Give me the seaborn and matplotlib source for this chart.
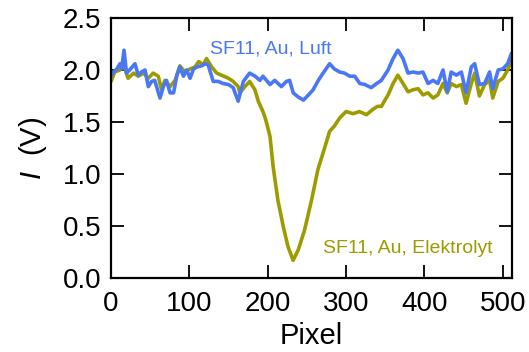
import matplotlib
matplotlib.use("Agg")
import matplotlib.pyplot as plt
import seaborn as sns
import pandas as pd

# Series: SF11, Au, Luft (blue)
luft_x = [0.3, 3, 7.7, 11.7, 13.8, 16.8, 20, 24, 30.8, 35, 39, 43.6, 47.8, 52, 56, 62.7, 67, 71,
          75.5, 80, 84, 88, 92.6, 96.8, 101, 105.5, 110, 116, 120, 124, 130.6, 137, 143, 150, 156,
          162.4, 169, 177, 184, 190, 194, 203, 209, 217.5, 224, 228, 232.6, 239, 245.6, 252, 258,
          264.6, 270.7, 279, 285, 292, 298, 304.7, 311, 317.5, 324, 332, 339, 345, 353.5, 360, 366,
          372.6, 379, 385.5, 392, 398, 404.5, 411, 417, 423.6, 429, 434, 440.6, 447, 453, 459.7,
          464, 470, 476.7, 483, 487, 494, 500, 506, 511]
luft_y = [1.94, 1.98, 2.01, 2.06, 2.01, 2.19, 1.97, 2.00, 2.06, 1.95, 1.98, 2.00, 1.84, 1.89, 1.90,
          1.73, 1.84, 1.90, 1.78, 1.78, 1.94, 2.03, 1.94, 2.00, 1.92, 2.01, 2.03, 2.04, 2.06, 2.05,
          1.89, 1.89, 1.87, 1.86, 1.83, 1.70, 1.89, 1.97, 1.94, 1.90, 1.94, 1.86, 1.90, 1.84, 1.89,
          1.90, 1.78, 1.74, 1.71, 1.76, 1.81, 1.90, 1.97, 2.06, 2.01, 1.98, 1.97, 1.94, 1.94, 1.87,
          1.86, 1.83, 1.87, 1.90, 2.00, 2.11, 2.19, 2.11, 1.97, 1.98, 1.97, 1.98, 1.87, 1.90, 1.87,
          2.00, 1.79, 1.98, 1.95, 1.98, 1.78, 2.03, 2.06, 1.86, 1.87, 1.98, 1.82, 2.00, 2.01, 2.06,
          2.16]

# Series: SF11, Au, Elektrolyt (olive)
elek_x = [0.3, 5, 11.7, 16, 22, 29, 35, 41.6, 47.8, 54, 60.5, 64.6, 69, 75.5, 82, 88, 94.5, 101,
          107.5, 112, 118, 122, 128.5, 135, 141, 150, 156, 162.4, 164.6, 171, 177, 183.7, 188, 194,
          197.6, 203, 207, 213, 220, 226, 232.5, 239, 247, 256, 264, 273, 279, 285, 292, 300, 309,
          317, 326, 334, 340, 345, 353.5, 360, 366, 372.6, 379, 385.5, 392, 398, 404.5, 411, 417,
          423.6, 429, 434, 440.6, 447, 453, 459.7, 464, 470, 476.7, 483, 487, 494, 500, 506, 511]
elek_y = [1.89, 1.98, 2.00, 2.06, 1.92, 1.97, 1.94, 1.97, 1.92, 1.97, 1.94, 1.81, 1.90, 1.84, 1.90,
          2.04, 1.98, 2.01, 2.03, 2.08, 2.05, 2.11, 2.03, 1.97, 1.95, 1.92, 1.89, 1.84, 1.78, 1.84,
          1.89, 1.81, 1.70, 1.60, 1.52, 1.36, 1.07, 0.75, 0.49, 0.30, 0.17, 0.27, 0.46, 0.75, 1.04,
          1.26, 1.41, 1.46, 1.54, 1.60, 1.58, 1.60, 1.57, 1.62, 1.65, 1.65, 1.76, 1.87, 1.95, 1.87,
          1.79, 1.81, 1.82, 1.76, 1.78, 1.73, 1.76, 1.87, 1.78, 1.87, 1.84, 1.86, 1.68, 1.87, 1.97,
          1.75, 1.86, 1.90, 1.73, 1.89, 1.92, 2.00, 2.09]

x_ticks = [0, 100, 200, 300, 400, 500]
y_ticks = [0.0, 0.5, 1.0, 1.5, 2.0, 2.5]

sns.set_style("ticks")
plt.rcParams['font.family'] = ['Liberation Sans', 'DejaVu Sans']
plt.rcParams['mathtext.fontset'] = 'custom'
plt.rcParams['mathtext.it'] = 'Liberation Sans:italic'
plt.rcParams['mathtext.rm'] = 'Liberation Sans'
plt.rcParams['text.color'] = 'black'
plt.rcParams['axes.labelcolor'] = 'black'

fig = plt.figure(figsize=(5.29, 3.52), dpi=100)
ax = fig.add_axes([0.2095, 0.2102, 0.7575, 0.7388])

blue = "#4a78f5"
olive = "#9c9c00"

df_l = pd.DataFrame({"x": luft_x, "y": luft_y})
df_e = pd.DataFrame({"x": elek_x, "y": elek_y})
sns.lineplot(data=df_e, x="x", y="y", ax=ax, color=olive, lw=2.6, estimator=None, sort=False)
sns.lineplot(data=df_l, x="x", y="y", ax=ax, color=blue, lw=2.6, estimator=None, sort=False)

ax.set_xlim(0, 511)
ax.set_ylim(0, 2.5)
ax.set_xticks(x_ticks)
ax.set_xticklabels([str(t) for t in x_ticks])
ax.set_yticks(y_ticks)
ax.set_yticklabels([f"{t:.1f}" for t in y_ticks])
ax.tick_params(direction="in", length=9.5, width=1.3, labelsize=20, top=True, right=True,
               colors="black", labelcolor="black", pad=7)
ax.tick_params(axis="x", pad=9)
for s in ax.spines.values():
    s.set_linewidth(1.6)
    s.set_color("black")
    s.set_visible(True)

ax.set_xlabel("Pixel", fontsize=21, labelpad=4, color="black")
ax.set_ylabel(r"$\mathit{I}$  (V)", fontsize=21, labelpad=10, color="black")

ax.text(126, 2.2, "SF11, Au, Luft", color=blue, fontsize=14, va="center", ha="left")
ax.text(487, 0.28, "SF11, Au, Elektrolyt", color=olive, fontsize=14, va="center", ha="right")

fig.savefig("out.png", dpi=100)
